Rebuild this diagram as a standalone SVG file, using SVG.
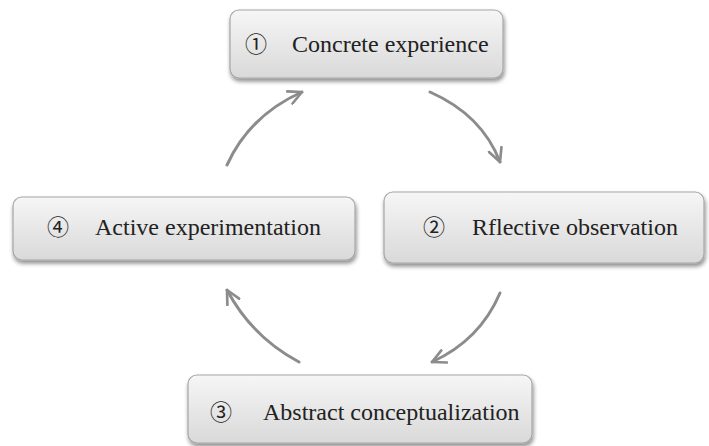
<svg xmlns="http://www.w3.org/2000/svg" width="709" height="446" viewBox="0 0 709 446">
<style>
.box{fill:url(#g);stroke:#a6a6a6;stroke-width:1.2;filter:url(#sh)}
.t{font-family:"Liberation Serif","Times New Roman",serif;font-size:24px;fill:#222}
.n{font-family:"Liberation Serif","Noto Sans CJK SC",serif;font-size:22px;fill:#222}
.c{fill:none;stroke:#8c8c8c;stroke-width:3;stroke-linecap:round}
</style>
<defs>
<linearGradient id="g" x1="0" y1="0" x2="0" y2="1">
<stop offset="0" stop-color="#f6f6f6"/>
<stop offset="1" stop-color="#d9d9d9"/>
</linearGradient>
<filter id="sh" x="-10%" y="-20%" width="120%" height="150%">
<feGaussianBlur in="SourceAlpha" stdDeviation="2"/>
<feOffset dx="1" dy="3" result="b"/>
<feComponentTransfer><feFuncA type="linear" slope="0.45"/></feComponentTransfer>
<feMerge><feMergeNode/><feMergeNode in="SourceGraphic"/></feMerge>
</filter>
<marker id="a" viewBox="0 0 12 12" refX="11" refY="6" markerWidth="16" markerHeight="16" markerUnits="userSpaceOnUse" orient="auto">
<path d="M1,1 L11,6 L1,11" fill="none" stroke="#8c8c8c" stroke-width="2" stroke-linecap="round" stroke-linejoin="round"/>
</marker>
</defs>
<g id="connectors">
<path class="c" marker-end="url(#a)" d="M227,165 Q250,115 302,92"/>
<path class="c" marker-end="url(#a)" d="M430,92 Q482,115 500,162"/>
<path class="c" marker-end="url(#a)" d="M500,293 Q480,340 432,362"/>
<path class="c" marker-end="url(#a)" d="M299,362 Q252,337 227,290"/>
</g>
<g id="n1">
<rect class="box" x="230" y="10" width="273" height="68" rx="9"/>
<text class="n" x="245" y="52">①</text>
<text class="t" x="292" y="52">Concrete experience</text>
</g>
<g id="n2">
<rect class="box" x="384" y="192" width="320" height="71" rx="9"/>
<text class="n" x="423" y="235">②</text>
<text class="t" x="472" y="235">Rflective observation</text>
</g>
<g id="n3">
<rect class="box" x="188" y="375" width="344" height="68" rx="9"/>
<text class="n" x="210" y="420">③</text>
<text class="t" x="263" y="420">Abstract conceptualization</text>
</g>
<g id="n4">
<rect class="box" x="13" y="197" width="342" height="63" rx="9"/>
<text class="n" x="47" y="235">④</text>
<text class="t" x="95" y="235">Active experimentation</text>
</g>
</svg>
